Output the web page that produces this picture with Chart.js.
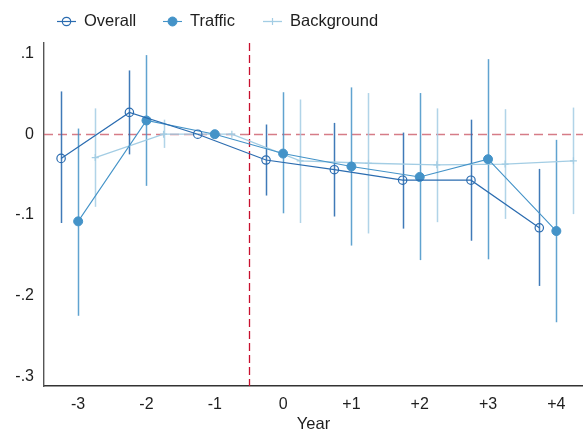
<!DOCTYPE html>
<html>
<head>
<meta charset="utf-8">
<script src="https://cdn.jsdelivr.net/npm/chart.js@4.4.1/dist/chart.umd.min.js"></script>
<style>
  html, body { margin: 0; padding: 0; background: #fff; }
</style>
</head>
<body>
<canvas id="chart" width="583" height="434"></canvas>
<script>
// data
const years = [-3, -2, -1, 0, 1, 2, 3, 4];
const yearLabels = ['-3', '-2', '-1', '0', '+1', '+2', '+3', '+4'];
const yTicks = [0.1, 0, -0.1, -0.2, -0.3];
const yTickLabels = ['.1', '0', '-.1', '-.2', '-.3'];

const seriesNames = ['Overall', 'Traffic', 'Background'];
const seriesOffset = [-0.25, 0, 0.25];

const overallEst = [-0.030, 0.027, 0, -0.032, -0.044, -0.057, -0.057, -0.116];
const overallLo  = [-0.110, -0.025, null, -0.076, -0.102, -0.117, -0.132, -0.188];
const overallHi  = [0.053, 0.079, null, 0.012, 0.014, 0.002, 0.018, -0.043];

const trafficEst = [-0.108, 0.017, 0, -0.024, -0.040, -0.053, -0.031, -0.120];
const trafficLo  = [-0.225, -0.064, null, -0.098, -0.138, -0.156, -0.155, -0.233];
const trafficHi  = [0.007, 0.098, null, 0.052, 0.058, 0.051, 0.093, -0.007];

const backgroundEst = [-0.029, 0.000, 0, -0.033, -0.036, -0.038, -0.037, -0.033];
const backgroundLo  = [-0.090, -0.017, null, -0.110, -0.123, -0.109, -0.105, -0.099];
const backgroundHi  = [0.032, 0.018, null, 0.043, 0.051, 0.032, 0.031, 0.033];

const FONT = '"Liberation Sans", Arial, sans-serif';
const colOverall = '#2b6cb0';
const colTraffic = '#4493c8';
const colBackground = '#a3cde4';

const toPoints = (est, off) => years.map((yr, i) => ({ x: yr + off, y: est[i] }));

// confidence intervals + dashed reference lines
const ciPlugin = {
    id: 'ciBars',
    beforeDatasetsDraw(chart) {
        const { ctx, chartArea, scales } = chart;
        const x = scales.x, y = scales.y;
        ctx.save();
        ctx.beginPath();
        ctx.rect(chartArea.left, chartArea.top, chartArea.right - chartArea.left, chartArea.bottom - chartArea.top);
        ctx.clip();

        // horizontal zero line
        const y0 = Math.round(y.getPixelForValue(0)) + 0.5;
        ctx.setLineDash([9, 5]);
        ctx.strokeStyle = 'rgba(200,80,95,0.75)';
        ctx.lineWidth = 1.6;
        ctx.beginPath();
        ctx.moveTo(chartArea.left, y0);
        ctx.lineTo(chartArea.right, y0);
        ctx.stroke();

        // treatment line between -1 and 0
        const xv = Math.round(x.getPixelForValue(-0.5)) + 0.5;
        ctx.setLineDash([8, 4]);
        ctx.strokeStyle = '#c8102e';
        ctx.lineWidth = 1.3;
        ctx.beginPath();
        ctx.moveTo(xv, chartArea.top);
        ctx.lineTo(xv, chartArea.bottom);
        ctx.stroke();
        ctx.setLineDash([]);

        chart.data.datasets.forEach(ds => {
            ctx.strokeStyle = ds.ciColor;
            ctx.lineWidth = ds.ciWidth;
            ds.data.forEach((p, i) => {
                if (ds.lo[i] == null) return;
                const px = Math.round(x.getPixelForValue(p.x)) + 0.5;
                ctx.beginPath();
                ctx.moveTo(px, y.getPixelForValue(ds.lo[i]));
                ctx.lineTo(px, y.getPixelForValue(ds.hi[i]));
                ctx.stroke();
            });
        });
        ctx.restore();
    }
};

// legend with line + marker symbols
const legendPlugin = {
    id: 'lineLegend',
    afterDraw(chart) {
        const ctx = chart.ctx;
        const cy = 21.5;
        const items = [
            { x: 57, text: 84, ds: chart.data.datasets[0] },
            { x: 163, text: 190, ds: chart.data.datasets[1] },
            { x: 263, text: 290, ds: chart.data.datasets[2] }
        ];
        ctx.save();
        items.forEach(it => {
            const ds = it.ds;
            ctx.strokeStyle = ds.borderColor;
            ctx.lineWidth = ds.borderWidth;
            ctx.beginPath();
            ctx.moveTo(it.x, cy);
            ctx.lineTo(it.x + 19, cy);
            ctx.stroke();
            const mx = it.x + 9.5;
            ctx.fillStyle = ds.pointBackgroundColor;
            ctx.strokeStyle = ds.pointBorderColor;
            ctx.lineWidth = ds.pointBorderWidth;
            ctx.beginPath();
            if (ds.pointStyle === 'circle') {
                ctx.arc(mx, cy, ds.pointRadius, 0, Math.PI * 2);
                ctx.fill();
                ctx.stroke();
            } else {
                ctx.moveTo(mx, cy - ds.pointRadius);
                ctx.lineTo(mx, cy + ds.pointRadius);
                ctx.moveTo(mx - ds.pointRadius, cy);
                ctx.lineTo(mx + ds.pointRadius, cy);
                ctx.stroke();
            }
            ctx.fillStyle = '#1e1e1e';
            ctx.font = '16.5px ' + FONT;
            ctx.textBaseline = 'middle';
            ctx.textAlign = 'left';
            ctx.fillText(ds.label, it.text, cy);
        });
        ctx.restore();
    }
};

new Chart(document.getElementById('chart').getContext('2d'), {
    type: 'line',
    data: {
        datasets: [
            {
                label: seriesNames[0],
                data: toPoints(overallEst, seriesOffset[0]),
                lo: overallLo, hi: overallHi,
                ciColor: 'rgba(43,108,176,0.9)', ciWidth: 1.5,
                borderColor: colOverall, borderWidth: 1.2,
                pointStyle: 'circle', pointRadius: 4.2,
                pointBackgroundColor: 'rgba(255,255,255,0)',
                pointBorderColor: colOverall, pointBorderWidth: 1.2,
                tension: 0
            },
            {
                label: seriesNames[1],
                data: toPoints(trafficEst, seriesOffset[1]),
                lo: trafficLo, hi: trafficHi,
                ciColor: 'rgba(68,147,200,0.85)', ciWidth: 1.5,
                borderColor: colTraffic, borderWidth: 1.1,
                pointStyle: 'circle', pointRadius: 4.5,
                pointBackgroundColor: colTraffic,
                pointBorderColor: colTraffic, pointBorderWidth: 1,
                tension: 0
            },
            {
                label: seriesNames[2],
                data: toPoints(backgroundEst, seriesOffset[2]),
                lo: backgroundLo, hi: backgroundHi,
                ciColor: 'rgba(163,205,228,0.85)', ciWidth: 1.5,
                borderColor: colBackground, borderWidth: 1.3,
                pointStyle: 'cross', pointRadius: 3.5,
                pointBackgroundColor: colBackground,
                pointBorderColor: colBackground, pointBorderWidth: 1.2,
                tension: 0
            }
        ]
    },
    options: {
        responsive: false,
        animation: false,
        devicePixelRatio: 1,
        layout: { autoPadding: false, padding: { top: 43, left: 0, right: 0, bottom: 0 } },
        plugins: {
            legend: { display: false },
            tooltip: { enabled: false }
        },
        scales: {
            x: {
                type: 'linear',
                min: -3.5,
                max: 4.39,
                grid: { display: false, drawTicks: false },
                border: { display: true, color: '#333', width: 1.4 },
                afterBuildTicks: scale => { scale.ticks = years.map(v => ({ value: v })); },
                afterFit: scale => {
                    scale.height = 48;
                    scale.paddingLeft = 0;
                    scale.paddingRight = 0;
                },
                ticks: {
                    autoSkip: false,
                    maxRotation: 0,
                    padding: 9,
                    color: '#1e1e1e',
                    font: { family: FONT, size: 16 },
                    callback: v => yearLabels[years.indexOf(v)]
                },
                title: {
                    display: true,
                    text: 'Year',
                    color: '#1e1e1e',
                    font: { family: FONT, size: 16.5 },
                    padding: { top: 0, bottom: 0 }
                }
            },
            y: {
                min: -0.312,
                max: 0.113,
                grid: { display: false, drawTicks: false },
                border: { display: true, color: '#555', width: 1.4 },
                afterBuildTicks: scale => { scale.ticks = yTicks.map(v => ({ value: v })); },
                afterFit: scale => { scale.width = 44; },
                ticks: {
                    padding: 10,
                    color: '#1e1e1e',
                    font: { family: FONT, size: 16 },
                    callback: v => yTickLabels[yTicks.findIndex(t => Math.abs(t - v) < 1e-9)]
                }
            }
        }
    },
    plugins: [ciPlugin, legendPlugin]
});
</script>
</body>
</html>
